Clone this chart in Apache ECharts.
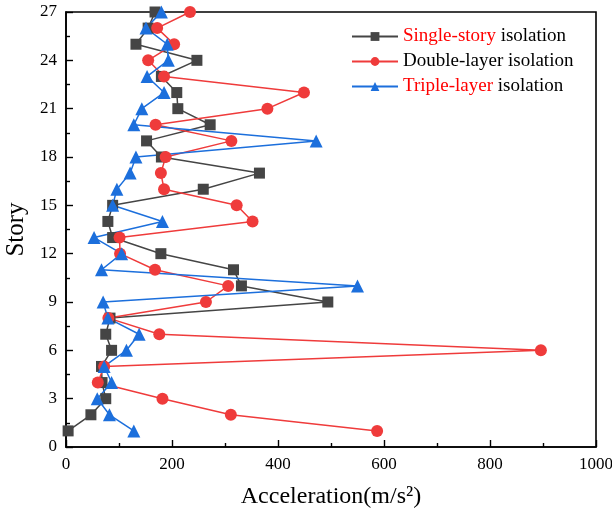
<!DOCTYPE html>
<html>
<head>
<meta charset="utf-8">
<script src="https://cdn.jsdelivr.net/npm/echarts@6/dist/echarts.min.js"></script>
<style>
html, body { margin: 0; padding: 0; background: #fff; }
#chart { width: 612px; height: 513px; }
</style>
</head>
<body>
<div id="chart"></div>
<script>
// Story numbers 1..27 (bottom to top)
const stories = [1,2,3,4,5,6,7,8,9,10,11,12,13,14,15,16,17,18,19,20,21,22,23,24,25,26,27];

// Peak floor acceleration (m/s²) for each story
const singleStory = [4,47,75,68,67,86,75,83,494,331,316,179,88,79,88,259,365,180,152,272,211,209,180,247,132,155,168];
const doubleLayer = [587,311,182,60,72,896,176,80,264,306,168,102,101,352,322,185,179,188,312,169,380,449,185,155,204,172,234];
const tripleLayer = [128,82,59,86,72,114,138,79,70,550,67,105,53,182,88,96,121,132,472,128,143,185,153,193,191,151,180];

const xTicks = { min: 0, max: 1000, step: 200 };
const yTicks = { min: 0, max: 27, step: 3 };

const pairs = vals => vals.map((v, i) => [v, stories[i]]);

const serif = '"Liberation Serif", "Times New Roman", serif';
const chart = echarts.init(document.getElementById('chart'));

function series(name, vals, color, symbol, size) {
  return {
    name, type: 'line', data: pairs(vals),
    symbol, symbolSize: size,
    lineStyle: { color, width: 1.5 },
    itemStyle: { color },
    emphasis: { disabled: true },
    animation: false
  };
}

const axisCommon = {
  axisLine: { show: true, lineStyle: { color: '#000', width: 1.6 } },
  axisTick: { show: true, inside: true, length: 7, lineStyle: { color: '#000', width: 1.4 } },
  minorTick: { show: true, splitNumber: 2, length: 4, lineStyle: { color: '#000', width: 1.4 } },
  axisLabel: { fontFamily: serif, fontSize: 17, color: '#000', margin: 9, formatter: v => String(v) },
  splitLine: { show: false }
};

chart.setOption({
  animation: false,
  grid: {
    left: 66, right: 16, top: 12, bottom: 66,
    outerBoundsMode: 'none',
    show: true, borderColor: '#000', borderWidth: 1.6
  },
  legend: {
    left: 346, top: 22, orient: 'vertical', itemGap: 6,
    itemWidth: 46, itemHeight: 11,
    textStyle: {
      fontFamily: serif, fontSize: 19, color: '#000',
      rich: { r: { color: '#f00', fontFamily: serif, fontSize: 19 }, k: { color: '#000', fontFamily: serif, fontSize: 19 } }
    },
    formatter: n => {
      if (n === 'Single-story isolation') return '{r|Single-story} {k|isolation}';
      if (n === 'Triple-layer isolation') return '{r|Triple-layer} {k|isolation}';
      return '{k|' + n + '}';
    },
    data: ['Single-story isolation', 'Double-layer isolation', 'Triple-layer isolation']
  },
  xAxis: Object.assign({
    type: 'value', min: xTicks.min, max: xTicks.max, interval: xTicks.step,
    name: 'Acceleration(m/s²)', nameLocation: 'middle', nameGap: 38,
    nameTextStyle: { fontFamily: serif, fontSize: 24, color: '#000' }
  }, axisCommon),
  yAxis: Object.assign({
    type: 'value', min: yTicks.min, max: yTicks.max, interval: yTicks.step,
    name: 'Story', nameLocation: 'middle', nameGap: 31,
    nameTextStyle: { fontFamily: serif, fontSize: 25, color: '#000' }
  }, axisCommon),
  series: [
    series('Single-story isolation', singleStory, '#454545', 'rect', 11),
    series('Double-layer isolation', doubleLayer, '#ef3b3b', 'circle', 12),
    series('Triple-layer isolation', tripleLayer, '#1c6fdc', 'triangle', 13)
  ]
});
</script>
</body>
</html>
